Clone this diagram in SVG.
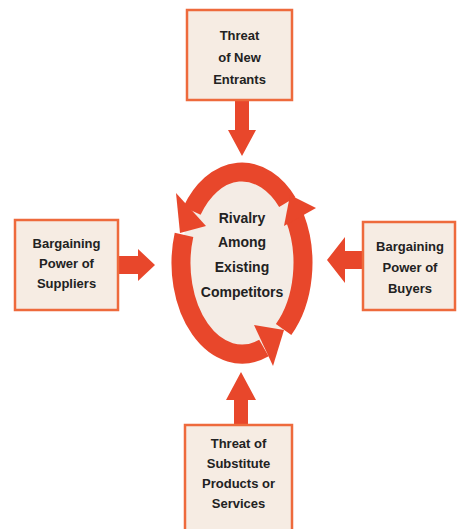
<svg xmlns="http://www.w3.org/2000/svg" width="460" height="529" viewBox="0 0 460 529">
<style>
.box{fill:#f6ece3;stroke:#ee6a3c;stroke-width:2.5}
.arr{fill:#e8472b}
.ring{fill:none;stroke:#e8472b;stroke-width:19}
.t{font-family:"Liberation Sans",Arial,sans-serif;font-weight:bold;font-size:13px;fill:#222;text-anchor:middle}
.c{font-size:14px}
</style>
<rect width="460" height="529" fill="#ffffff"/>
<g id="connectors">
  <polygon class="arr" points="235,100 249,100 249,130 256,130 242,156 228,130 235,130"/>
  <polygon class="arr" points="118,256 138,256 138,249 155,265 138,281 138,274 118,274"/>
  <polygon class="arr" points="363,251 345,251 345,237 327,260 345,283 345,269 363,269"/>
  <polygon class="arr" points="234,425 248,425 248,400 256,400 241,372 226,400 234,400"/>
</g>
<g id="rivalry">
  <ellipse cx="242" cy="263" rx="61" ry="91" fill="#f4ece5"/>
  <path class="ring" d="M287.3,202.1 A61,91 0 0 0 192,210.8"/>
  <path class="ring" d="M283.6,329.5 A61,91 0 0 0 294.8,217.5"/>
  <path class="ring" d="M184,234.9 A61,91 0 0 0 263.9,348"/>
  <polygon class="arr" points="176,193 206,226 180,233"/>
  <polygon class="arr" points="316,208 284,226 290,195"/>
  <polygon class="arr" points="254,325 273,366 284,330"/>
  <text class="t c" x="242" y="223">Rivalry</text>
  <text class="t c" x="242" y="247">Among</text>
  <text class="t c" x="242" y="272">Existing</text>
  <text class="t c" x="242" y="297">Competitors</text>
</g>
<g id="new-entrants">
  <rect class="box" x="187" y="10" width="105" height="90"/>
  <text class="t" x="239.5" y="40">Threat</text>
  <text class="t" x="239.5" y="62">of New</text>
  <text class="t" x="239.5" y="84">Entrants</text>
</g>
<g id="suppliers">
  <rect class="box" x="15" y="220" width="103" height="90"/>
  <text class="t" x="66.5" y="248">Bargaining</text>
  <text class="t" x="66.5" y="268">Power of</text>
  <text class="t" x="66.5" y="288">Suppliers</text>
</g>
<g id="buyers">
  <rect class="box" x="363" y="222" width="92" height="88"/>
  <text class="t" x="410" y="251">Bargaining</text>
  <text class="t" x="410" y="272">Power of</text>
  <text class="t" x="410" y="293">Buyers</text>
</g>
<g id="substitutes">
  <rect class="box" x="185" y="425" width="107" height="110"/>
  <text class="t" x="238.5" y="448">Threat of</text>
  <text class="t" x="238.5" y="468">Substitute</text>
  <text class="t" x="238.5" y="488">Products or</text>
  <text class="t" x="238.5" y="508">Services</text>
</g>
</svg>
